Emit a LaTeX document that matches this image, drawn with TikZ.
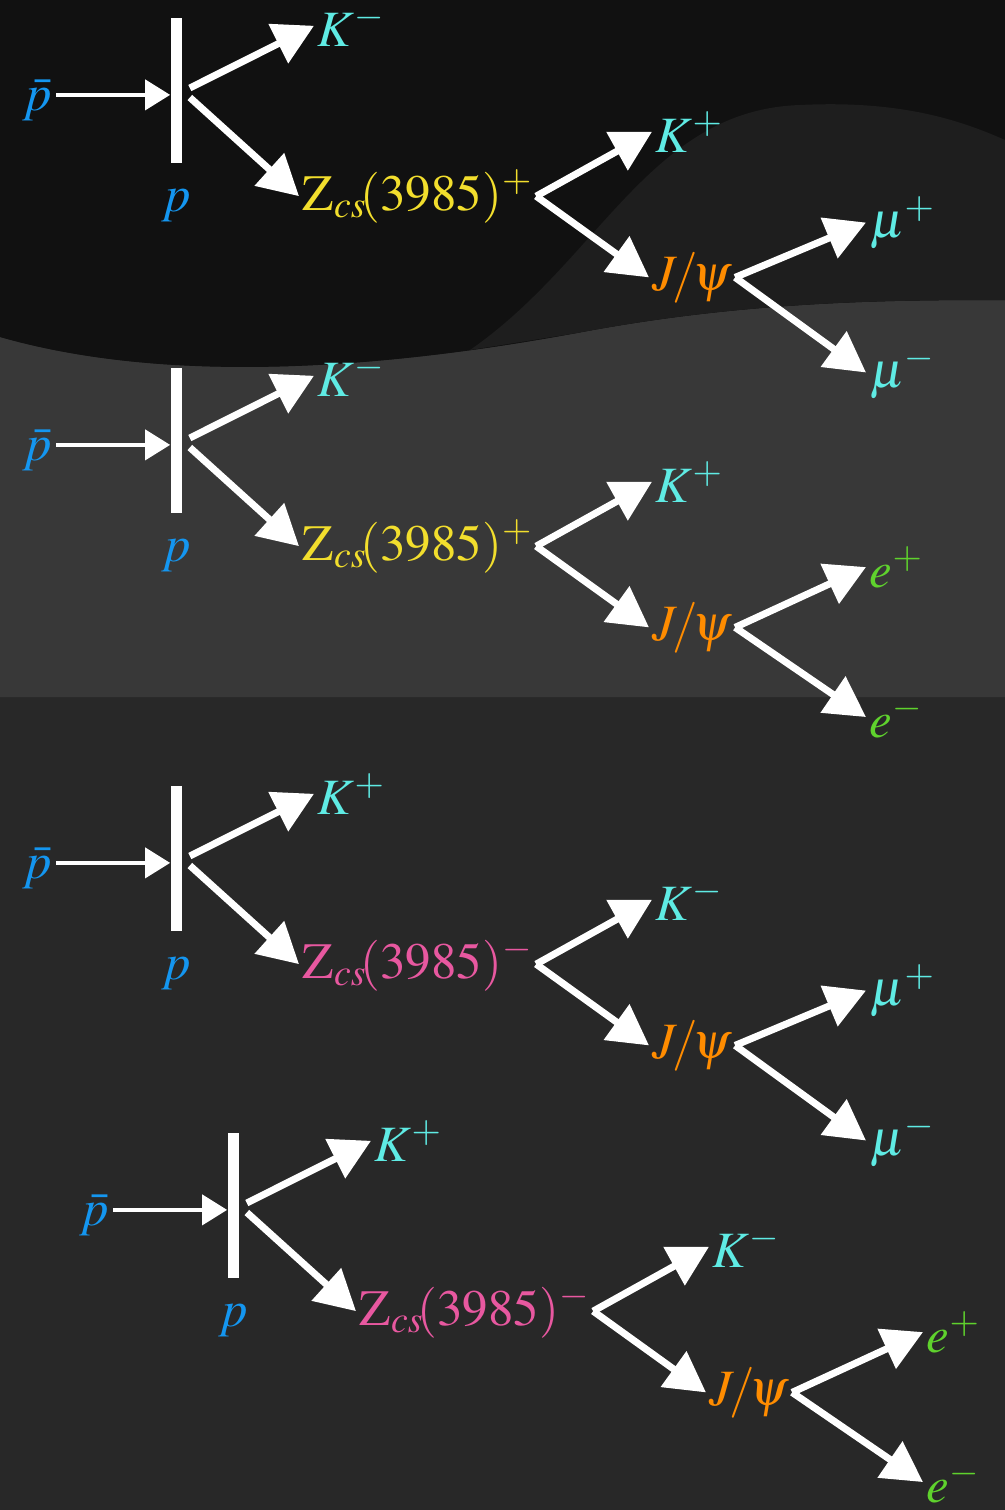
\documentclass[tikz,border=0pt]{standalone}
\usepackage{mathptmx}
\usetikzlibrary{arrows.meta}

\definecolor{bgdark}{RGB}{17,17,17}
\definecolor{bgmid}{RGB}{30,30,30}
\definecolor{bgband}{RGB}{56,56,56}
\definecolor{bglow}{RGB}{40,40,40}
\definecolor{pbarblue}{RGB}{20,150,240}
\definecolor{kaoncyan}{RGB}{95,235,228}
\definecolor{zcsyellow}{RGB}{242,222,45}
\definecolor{zcspink}{RGB}{232,88,160}
\definecolor{jpsiorange}{RGB}{255,140,0}
\definecolor{elegreen}{RGB}{95,210,45}

\tikzset{
    lbl/.style={font=\fontsize{29}{35}\selectfont, inner sep=2pt, anchor=base west},
    beam/.style={white, line width=0.8mm, -{Triangle[length=5mm, width=6mm]}},
    chalk/.style={white, line width=1.4mm, -{Triangle[length=8mm, width=8.5mm]}},
    target/.style={fill=white, minimum width=2.2mm, minimum height=29mm, inner sep=0pt},
}

\begin{document}
\begin{tikzpicture}[x=0.2mm, y=-0.2mm]
    \useasboundingbox (0,0) rectangle (1005,1510);

    % Background bands
    \fill[bglow] (0,0) rectangle (1005,1510);
    \fill[bgband] (0,337) .. controls (150,380) and (350,375) .. (577,333)
        .. controls (750,300) and (900,300) .. (1005,300) -- (1005,697) -- (0,697) -- cycle;
    \fill[bgdark] (0,0) -- (1005,0) -- (1005,300) .. controls (900,300) and (750,300) .. (577,333)
        .. controls (350,375) and (150,380) .. (0,337) -- cycle;
    \fill[bgmid] (470,350) .. controls (600,260) and (650,110) .. (800,105)
        .. controls (900,100) and (960,120) .. (1005,140) -- (1005,300)
        .. controls (900,300) and (750,300) .. (577,333) -- cycle;

    % Decay chains
    \foreach \dx/\dy/\ka/\kb/\zs/\zc/\lep/\lc [count=\i] in
        {0/0/-/+/+/zcsyellow/\mu/kaoncyan, 0/350/-/+/+/zcsyellow/e/elegreen,
         0/768/+/-/-/zcspink/\mu/kaoncyan, 57/1115/+/-/-/zcspink/e/elegreen}{
    \begin{scope}[shift={(\dx,\dy)}]
        \node[target] (bar\i) at (176,90) {};
        \node[lbl, pbarblue] (pb\i) at (19,110) {$\bar{p}$};
        \node[lbl, pbarblue] (p\i) at (158,211) {$p$};
        \node[lbl, kaoncyan] (ka\i) at (314,46) {$K^{\ka}$};
        \node[lbl, \zc] (z\i) at (299,210) {$\mathrm{Z}_{cs}\!(3985)^{\zs}$};
        \node[lbl, kaoncyan] (kb\i) at (652,152) {$K^{\kb}$};
        \node[lbl, jpsiorange] (j\i) at (649,290) {$J\!/\!\psi$};
        \node[lbl, \lc] (lp\i) at (866,237) {$\lep^{+}$};
        \node[lbl, \lc] (lm\i) at (866,387) {$\lep^{-}$};

        \draw[beam] ([yshift=1mm]pb\i.east) -- ([yshift=1mm]pb\i.east -| bar\i.west);
        \draw[chalk] ([xshift=1.6mm, yshift=0.4mm]bar\i.east) -- (ka\i.west);
        \draw[chalk] ([xshift=1.6mm, yshift=-1.5mm]bar\i.east) -- (z\i.west);
        \draw[chalk] (z\i.east) -- (kb\i.west);
        \draw[chalk] (z\i.east) -- (j\i.west);
        \draw[chalk] (j\i.east) -- (lp\i.west);
        \draw[chalk] (j\i.east) -- (lm\i.west);
    \end{scope}
    }
\end{tikzpicture}
\end{document}
